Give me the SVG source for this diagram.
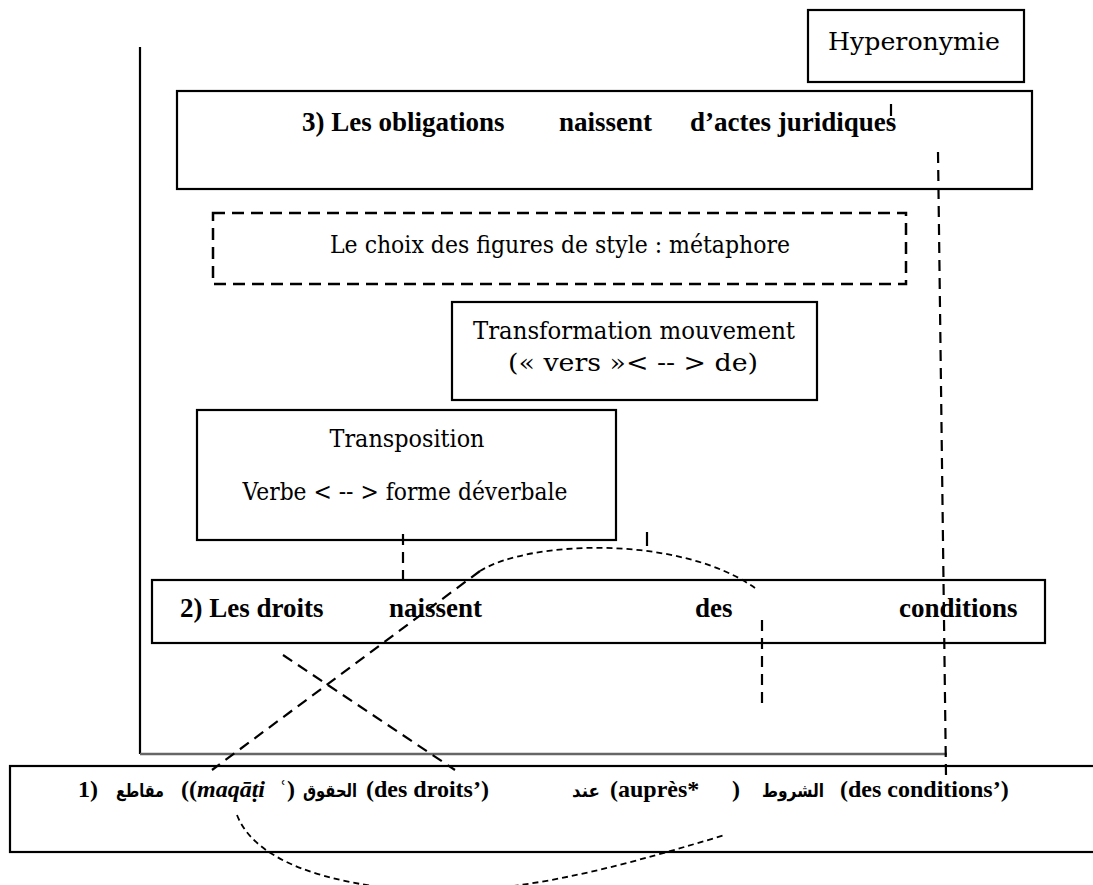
<svg xmlns="http://www.w3.org/2000/svg" width="1093" height="885" viewBox="0 0 1093 885">
<style>
.box{fill:none;stroke:#000;stroke-width:2.2}
.dbox{fill:none;stroke:#000;stroke-width:2.5;stroke-dasharray:12 7}
.dl{fill:none;stroke:#000;stroke-width:2.2;stroke-dasharray:11 7}
.sd{fill:none;stroke:#000;stroke-width:1.8;stroke-dasharray:6 4}
.ln{fill:none;stroke:#000;stroke-width:2.2}
.reg{font-family:"DejaVu Serif","Liberation Serif",serif;font-size:24px;fill:#000}
.bd{font-family:"Liberation Serif",serif;font-weight:bold;font-size:27px;fill:#000}
.bs{font-family:"Liberation Serif",serif;font-weight:bold;font-size:24px;fill:#000}
.ar{font-family:"DejaVu Sans",sans-serif;font-weight:bold;font-size:18px;fill:#000}
</style>
<rect width="1093" height="885" fill="#fff"/>
<g id="frame">
<line class="ln" x1="140" y1="47" x2="140" y2="754"/>
<line x1="140" y1="754" x2="947" y2="754" stroke="#666" stroke-width="2.5"/>
</g>
<g id="hyperonymie">
<rect class="box" x="808" y="10" width="216" height="72"/>
<text class="reg" x="828" y="50" font-size="28" textLength="172" lengthAdjust="spacingAndGlyphs">Hyperonymie</text>
</g>
<g id="phrase3">
<rect class="box" x="177" y="91" width="855" height="98"/>
<text class="bd" x="302" y="131">3) Les obligations</text>
<text class="bd" x="559" y="131">naissent</text>
<text class="bd" x="690" y="131">d’actes juridiques</text>
</g>
<g id="figures">
<rect class="dbox" x="213" y="213" width="693" height="71"/>
<text class="reg" x="330" y="253" textLength="460" lengthAdjust="spacingAndGlyphs">Le choix des figures de style : métaphore</text>
</g>
<g id="transformation">
<rect class="box" x="452" y="302" width="365" height="98"/>
<text class="reg" x="634" y="339" text-anchor="middle" textLength="322" lengthAdjust="spacingAndGlyphs">Transformation mouvement</text>
<text class="reg" x="633" y="371" text-anchor="middle" textLength="250" lengthAdjust="spacingAndGlyphs">(« vers »&lt; -- &gt; de)</text>
</g>
<g id="transposition">
<rect class="box" x="197" y="410" width="419" height="130"/>
<text class="reg" x="407" y="447" text-anchor="middle" textLength="155" lengthAdjust="spacingAndGlyphs">Transposition</text>
<text class="reg" x="405" y="500" text-anchor="middle" textLength="325" lengthAdjust="spacingAndGlyphs">Verbe &lt; -- &gt; forme déverbale</text>
</g>
<g id="phrase2">
<rect class="box" x="152" y="580" width="893" height="63"/>
<text class="bd" x="180" y="617">2) Les droits</text>
<text class="bd" x="389" y="617">naissent</text>
<text class="bd" x="695" y="617">des</text>
<text class="bd" x="899" y="617">conditions</text>
</g>
<g id="phrase1">
<rect class="box" x="10" y="766" width="1095" height="86"/>
<text class="bs" x="78" y="797">1)</text>
<text class="ar" x="116" y="797" textLength="48" lengthAdjust="spacingAndGlyphs">مقاطع</text>
<text class="bs" x="181" y="797">((<tspan font-style="italic">maqāṭi</tspan></text>
<text class="bs" x="279" y="797">ʿ)</text>
<text class="ar" x="303" y="797" textLength="54" lengthAdjust="spacingAndGlyphs">الحقوق</text>
<text class="bs" x="366" y="797">(des droits’)</text>
<text class="ar" x="572" y="797" textLength="28" lengthAdjust="spacingAndGlyphs">عند</text>
<text class="bs" x="610" y="797">(auprès*</text>
<text class="bs" x="732" y="797">)</text>
<text class="ar" x="762" y="797" textLength="62" lengthAdjust="spacingAndGlyphs">الشروط</text>
<text class="bs" x="840" y="797">(des conditions’)</text>
</g>
<g id="connectors">
<line class="ln" x1="891" y1="104" x2="891" y2="116"/>
<line class="dl" x1="938" y1="152" x2="946" y2="776"/>
<line class="dl" x1="403" y1="534" x2="403" y2="580"/>
<line class="ln" x1="647" y1="532" x2="647" y2="546"/>
<path class="sd" d="M480,571 C530,540 680,535 755,588"/>
<line class="dl" x1="480" y1="571" x2="212" y2="770"/>
<line class="dl" x1="283" y1="655" x2="455" y2="770"/>
<line class="dl" x1="762" y1="620" x2="762" y2="705"/>
<path class="sd" d="M237,815 C255,862 330,884 410,890 C520,898 640,860 725,835"/>
</g>
</svg>
